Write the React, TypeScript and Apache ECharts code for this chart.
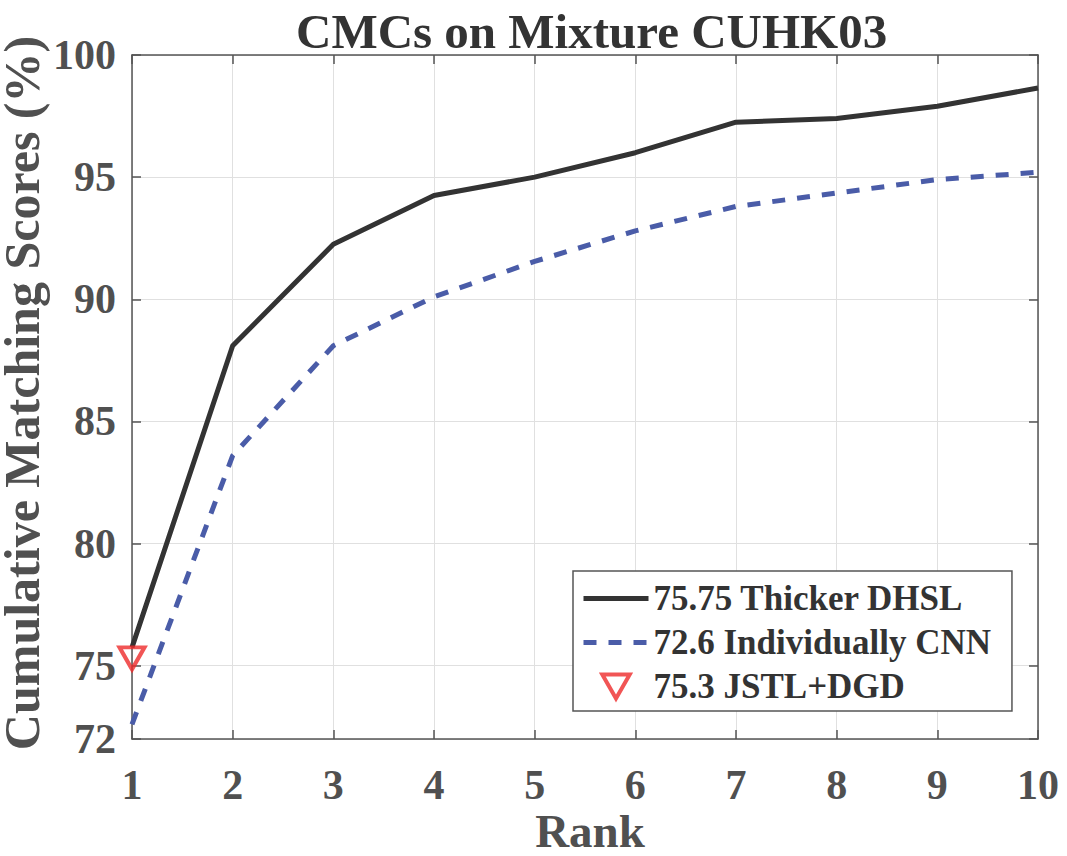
import React, { useEffect, useRef } from "react";
import * as echarts from "echarts";

const chartTitle = "CMCs on Mixture CUHK03";
const xName = "Rank";
const yName = "Cumulative Matching Scores (%)";
const ranks = [1, 2, 3, 4, 5, 6, 7, 8, 9, 10];
const thickerDHSL = [75.75, 88.1, 92.25, 94.25, 95.0, 96.0, 97.25, 97.4, 97.9, 98.65];
const individuallyCNN = [72.6, 83.6, 88.1, 90.1, 91.55, 92.8, 93.8, 94.35, 94.9, 95.2];
const jstlRank = [1];
const jstlDGD = [75.3];
const yTicks = [72, 75, 80, 85, 90, 95, 100];
const seriesNames = ["75.75 Thicker DHSL", "72.6 Individually CNN", "75.3 JSTL+DGD"];

const FONT = "'Liberation Serif', 'Times New Roman', serif";
const AXIS_COLOR = "#555555";
const LABEL_COLOR = "#505050";
const DOWN_TRIANGLE = "path://M0,0L24,0L12,21Z";
const RED = "#ee2b2b";

export default function App() {
  const ref = useRef<HTMLDivElement>(null);
  useEffect(() => {
    if (!ref.current) return;
    const chart = echarts.init(ref.current, null, { renderer: "svg" });
    const axisLine = { show: true, onZero: false, lineStyle: { color: AXIS_COLOR, width: 1.5 } };
    const tick = { show: true, inside: true, length: 9, lineStyle: { color: AXIS_COLOR, width: 1.5 } };
    const labelStyle = { fontSize: 42, fontWeight: "bold" as const, fontFamily: FONT, color: LABEL_COLOR };
    const gridLine = { show: true, lineStyle: { color: "#e0e0e0", width: 1 } };
    const hiddenSymbol = { color: "rgba(0,0,0,0)", borderWidth: 0, borderColor: "rgba(0,0,0,0)" };
    chart.setOption({
      animation: false,
      backgroundColor: "#ffffff",
      title: {
        text: chartTitle,
        left: 291,
        top: 2,
        textStyle: { fontSize: 49, fontWeight: "bold", fontFamily: FONT, color: "#333333" },
      },
      graphic: [
        {
          type: "text",
          x: 22,
          y: 393,
          rotation: Math.PI / 2,
          silent: true,
          style: {
            text: yName,
            fontSize: 50,
            lineHeight: 42,
            fontWeight: "bold",
            fontFamily: FONT,
            fill: LABEL_COLOR,
            align: "center",
            verticalAlign: "middle",
          },
        },
      ],
      grid: { left: 132, top: 55, right: 29, bottom: 117, containLabel: false, outerBoundsMode: "none" },
      legend: {
        orient: "vertical",
        left: 573,
        top: 571,
        padding: [10, 21, 7, 8],
        itemGap: 9,
        itemWidth: 65,
        itemHeight: 24,
        symbolKeepAspect: true,
        backgroundColor: "#ffffff",
        borderColor: AXIS_COLOR,
        borderWidth: 1.5,
        borderRadius: 0,
        lineStyle: { width: 5 },
        data: [
          { name: seriesNames[0], itemStyle: hiddenSymbol },
          { name: seriesNames[1], itemStyle: hiddenSymbol },
          {
            name: seriesNames[2],
            icon: DOWN_TRIANGLE,
            itemStyle: { color: "rgba(255,255,255,0)", borderColor: RED, borderWidth: 4 },
          },
        ],
        textStyle: { fontSize: 35, fontWeight: "bold", fontFamily: FONT, color: "#333333" },
      },
      xAxis: [
        {
          type: "value",
          min: 1,
          max: 10,
          interval: 1,
          position: "bottom",
          axisLine,
          axisTick: tick,
          axisLabel: { ...labelStyle, margin: 25 },
          splitLine: gridLine,
          name: xName,
          nameLocation: "middle",
          nameGap: 72,
          nameMoveOverlap: false,
          nameTextStyle: {
            fontSize: 47,
            lineHeight: 40,
            fontWeight: "bold",
            fontFamily: FONT,
            color: LABEL_COLOR,
            padding: [0, 0, 0, 10],
          },
        },
        {
          type: "value",
          min: 1,
          max: 10,
          interval: 1,
          position: "top",
          axisLine,
          axisTick: tick,
          axisLabel: { show: false },
          splitLine: { show: false },
        },
      ],
      yAxis: [
        {
          type: "value",
          min: 72,
          max: 100,
          position: "left",
          axisLine,
          axisTick: { ...tick, customValues: yTicks },
          axisLabel: { ...labelStyle, margin: 16, customValues: yTicks },
          splitLine: gridLine,
        },
        {
          type: "value",
          min: 72,
          max: 100,
          position: "right",
          axisLine,
          axisTick: { ...tick, customValues: yTicks },
          axisLabel: { show: false },
          splitLine: { show: false },
        },
      ],
      series: [
        {
          name: seriesNames[0],
          type: "line",
          data: ranks.map((r, i) => [r, thickerDHSL[i]]),
          symbol: "none",
          lineStyle: { color: "#333333", width: 5 },
          itemStyle: { color: "#333333" },
          z: 3,
        },
        {
          name: seriesNames[1],
          type: "line",
          data: ranks.map((r, i) => [r, individuallyCNN[i]]),
          symbol: "none",
          lineStyle: { color: "#4a5ca8", width: 5, type: [13, 12] },
          itemStyle: { color: "#4a5ca8" },
          z: 3,
        },
        {
          name: seriesNames[2],
          type: "scatter",
          data: jstlRank.map((r, i) => [r, jstlDGD[i]]),
          symbol: DOWN_TRIANGLE,
          symbolSize: [25, 22],
          itemStyle: { color: "rgba(255,255,255,0)", borderColor: RED, borderWidth: 4 },
          z: 4,
        },
      ],
    });
    return () => chart.dispose();
  }, []);
  return <div ref={ref} style={{ position: "fixed", left: 0, top: 0, width: 1067, height: 856 }} />;
}
